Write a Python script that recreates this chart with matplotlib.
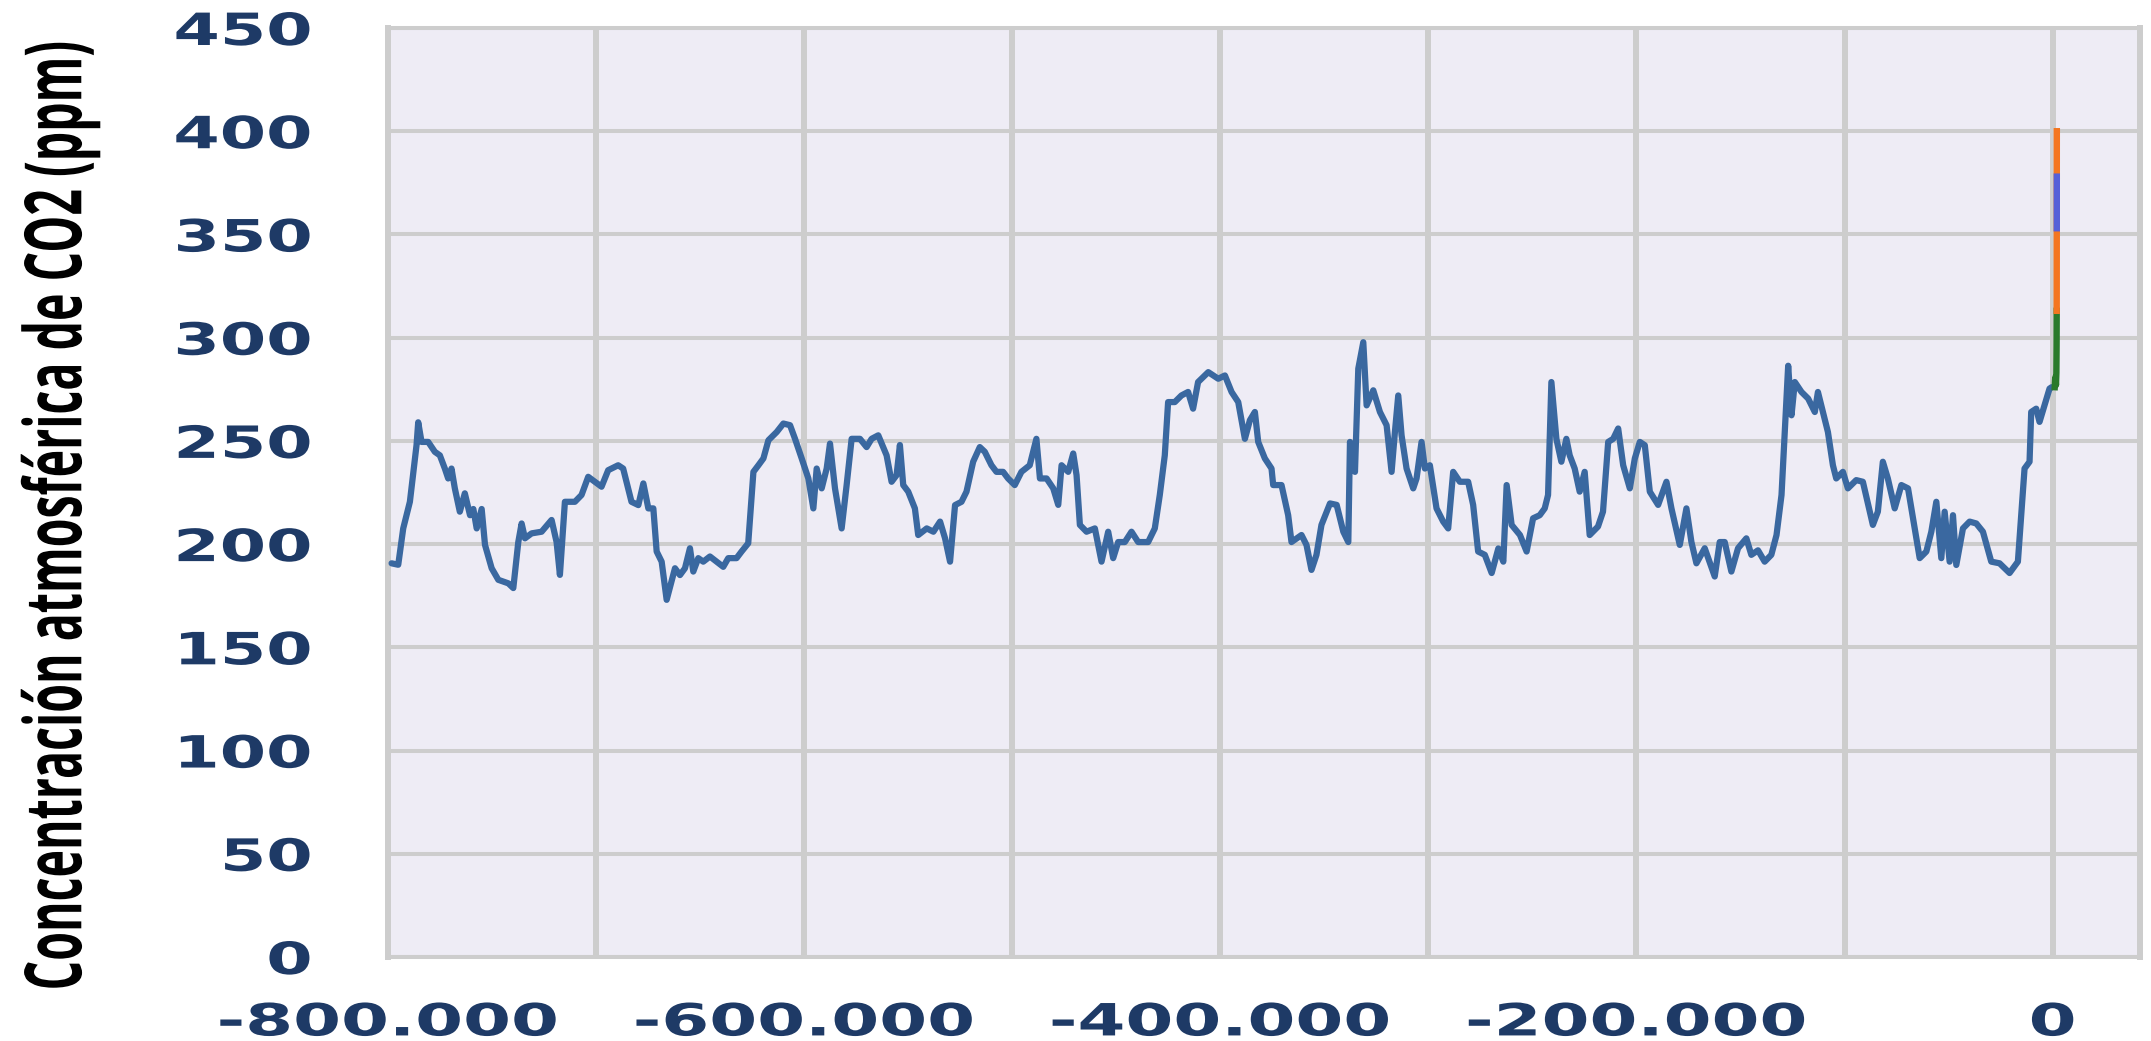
import matplotlib
matplotlib.use("Agg")
import matplotlib.pyplot as plt
from matplotlib.patheffects import AbstractPathEffect
from matplotlib.transforms import Affine2D
import numpy as np

# Ice-core CO2 record, years before present (thousands) and ppm
ice_kyr = [
    -798.3, -795.1, -792.7, -789.5, -786.3, -785.5, -783.9, -780.7, -777.5, -775.1,
    -772.7, -771.1, -769.5, -767.9, -765.5, -763.1, -760.6, -759.0, -757.4, -755.0,
    -753.4, -750.2, -747.0, -742.2, -739.8, -737.4, -735.8, -734.2, -731.0, -726.2,
    -721.4, -719.0, -717.4, -715.0, -710.2, -707.0, -703.8, -700.6, -697.4, -694.2,
    -689.4, -687.0, -683.0, -679.7, -677.3, -674.9, -672.5, -670.9, -668.5, -666.1,
    -662.1, -659.7, -657.3, -654.9, -653.3, -650.9, -648.5, -645.3, -642.1, -638.9,
    -636.5, -632.5, -630.1, -626.9, -624.4, -622.0, -619.6, -617.2, -613.2, -610.0,
    -606.8, -604.4, -601.2, -598.0, -595.6, -594.0, -591.6, -589.2, -587.6, -585.2,
    -582.0, -579.6, -577.2, -573.2, -570.0, -567.6, -564.4, -560.4, -558.0, -555.6,
    -554.0, -552.4, -550.0, -546.8, -545.2, -541.1, -537.9, -534.7, -532.3, -529.9,
    -527.5, -524.4, -522.0, -518.8, -515.6, -513.2, -510.0, -507.6, -504.4, -502.0,
    -498.8, -495.6, -491.6, -488.4, -486.7, -483.5, -480.3, -477.9, -476.3, -473.1,
    -470.7, -469.1, -467.5, -464.3, -460.3, -457.1, -453.9, -451.5, -449.1, -445.9,
    -442.7, -439.5, -434.7, -431.5, -429.1, -426.7, -425.1, -421.9, -418.7, -415.5,
    -413.1, -410.7, -405.8, -401.0, -397.8, -394.6, -391.4, -388.2, -385.8, -383.4,
    -381.8, -378.6, -375.4, -374.6, -370.6, -367.4, -365.8, -361.0, -358.6, -356.2,
    -353.8, -351.4, -347.3, -344.1, -340.9, -338.5, -337.7, -335.3, -333.7, -331.3,
    -329.7, -326.5, -323.3, -320.1, -317.7, -316.1, -314.5, -312.9, -310.5, -307.3,
    -305.7, -303.3, -301.7, -299.3, -296.1, -292.9, -290.5, -288.1, -284.9, -280.9,
    -278.5, -276.1, -272.9, -269.6, -266.4, -264.0, -262.4, -260.0, -256.0, -252.8,
    -249.7, -246.5, -244.1, -242.5, -240.9, -238.5, -236.1, -233.7, -232.1, -229.7,
    -227.3, -224.9, -222.5, -218.5, -216.1, -213.6, -211.2, -208.8, -206.4, -203.2,
    -200.8, -198.4, -196.0, -193.6, -189.6, -185.6, -183.2, -179.2, -176.0, -173.6,
    -171.2, -167.2, -162.4, -160.0, -157.6, -154.4, -151.2, -147.2, -144.8, -141.6,
    -138.4, -135.2, -132.7, -130.3, -127.1, -125.5, -123.9, -120.7, -117.5, -114.3,
    -112.8, -110.4, -108.0, -105.6, -104.0, -100.8, -98.4, -94.4, -91.2, -86.4,
    -84.0, -81.6, -79.2, -75.9, -72.7, -69.5, -66.3, -63.9, -60.7, -58.3,
    -55.9, -53.5, -51.9, -49.5, -47.9, -46.3, -43.1, -39.9, -36.7, -33.5,
    -29.5, -25.5, -20.7, -16.7, -15.1, -13.5, -11.1, -10.3, -7.9, -6.3,
    -3.9, -1.5, -0.5,
]
ice_ppm = [
    190.7, 190.0, 207.6, 220.5, 248.0, 259.0, 249.5, 249.5, 244.7, 243.0,
    236.6, 231.8, 236.6, 227.0, 215.7, 224.6, 214.0, 217.0, 207.6, 217.0,
    199.6, 188.3, 182.7, 181.0, 178.7, 201.0, 210.0, 202.8, 205.2, 206.0,
    211.7, 201.0, 185.1, 220.5, 220.5, 223.8, 232.6, 230.2, 227.8, 235.8,
    238.2, 236.6, 220.5, 218.9, 229.4, 217.3, 217.3, 196.4, 191.5, 173.0,
    188.3, 185.0, 188.3, 198.0, 186.7, 193.2, 191.5, 194.0, 191.5, 189.0,
    193.2, 193.2, 196.4, 200.4, 235.0, 238.2, 241.5, 250.3, 254.3, 258.4,
    257.6, 251.0, 241.5, 231.8, 217.3, 236.6, 227.0, 236.6, 248.7, 227.0,
    207.6, 228.6, 251.0, 251.0, 247.0, 251.0, 252.7, 243.0, 230.2, 233.4,
    248.0, 228.6, 225.4, 217.3, 204.4, 207.6, 206.0, 210.9, 202.8, 191.5,
    218.9, 220.5, 225.4, 239.9, 247.0, 244.7, 238.2, 235.0, 235.0, 231.8,
    228.6, 235.0, 238.2, 251.0, 231.8, 231.8, 227.0, 219.0, 238.2, 235.0,
    243.9, 233.4, 209.3, 206.0, 207.6, 191.5, 206.0, 193.2, 201.0, 201.0,
    206.0, 201.0, 201.0, 207.6, 223.8, 243.0, 268.8, 268.8, 272.0, 273.7,
    265.6, 278.5, 283.3, 280.1, 281.7, 273.7, 268.8, 251.0, 260.0, 264.0,
    249.5, 241.5, 236.6, 228.6, 228.6, 214.0, 201.0, 204.4, 199.6, 187.5,
    194.8, 209.3, 219.7, 219.0, 206.0, 201.0, 249.5, 235.0, 285.0, 297.8,
    267.2, 274.5, 264.0, 257.6, 235.0, 254.3, 272.0, 252.7, 236.6, 227.0,
    231.8, 249.5, 236.6, 238.2, 217.3, 210.9, 207.6, 235.0, 230.2, 230.2,
    219.0, 196.4, 194.8, 186.0, 197.9, 191.5, 228.6, 209.3, 204.4, 196.4,
    212.5, 214.0, 217.3, 223.8, 278.5, 251.0, 239.9, 251.0, 243.0, 236.6,
    225.4, 235.0, 204.4, 208.5, 215.7, 249.5, 251.0, 256.0, 238.2, 227.0,
    241.5, 249.5, 247.9, 225.4, 219.0, 230.2, 217.3, 199.6, 217.3, 201.0,
    190.7, 198.0, 184.3, 201.0, 201.0, 186.7, 198.0, 202.8, 194.8, 197.0,
    191.5, 194.8, 204.4, 223.8, 286.4, 262.4, 278.5, 273.7, 270.5, 264.0,
    273.7, 264.0, 254.3, 238.2, 231.8, 235.0, 227.0, 231.0, 230.2, 209.3,
    215.7, 239.9, 231.8, 217.3, 228.6, 227.0, 207.6, 193.2, 196.4, 206.0,
    220.5, 193.2, 215.7, 191.5, 214.0, 189.9, 207.6, 210.9, 210.0, 206.0,
    191.5, 190.7, 186.0, 191.5, 214.0, 236.6, 239.9, 264.0, 265.6, 259.2,
    267.2, 275.3, 276.0,
]

# Recent records (calendar years, sit right at the 0 mark)
lawdome_year = [1000, 1200, 1400, 1600, 1800, 1900, 1958]
lawdome_ppm = [276, 280, 281, 277, 283, 296, 313]
maunaloa_year = [1958, 1970, 1980, 1990, 2000, 2010, 2015]
maunaloa_ppm = [313, 325, 339, 354, 369, 389, 400]
station_year = [1990, 2005]
station_ppm = [353, 378]

x_ticks = [-800000, -600000, -400000, -200000, 0]
x_ticklabels = ["-800.000", "-600.000", "-400.000", "-200.000", "0"]
y_ticks = list(range(0, 451, 50))

TICK_COLOR = "#1E3A66"
GRID_COLOR = "#CDCDCD"


class Widen(AbstractPathEffect):
    """Stretch drawn text horizontally around its right edge or centre."""

    def __init__(self, sx, anchor="center"):
        super().__init__()
        self.sx = sx
        self.anchor = anchor

    def draw_path(self, renderer, gc, tpath, affine, rgbFace=None):
        ext = tpath.get_extents(affine)
        x0 = ext.x1 if self.anchor == "right" else 0.5 * (ext.x0 + ext.x1)
        stretch = Affine2D().translate(-x0, 0).scale(self.sx, 1).translate(x0, 0)
        renderer.draw_path(gc, tpath, affine + stretch, rgbFace)


fig = plt.figure(figsize=(21.51, 10.41), dpi=100)
ax = fig.add_axes([0.1804, 0.0807, 0.8145, 0.8924])
ax.set_facecolor("#EEECF5")
ax.set_axisbelow(True)

ax.plot(np.array(ice_kyr) * 1000, ice_ppm, color="#3A68A0", lw=4.5,
        solid_joinstyle="round", solid_capstyle="round", zorder=3)
ax.plot(lawdome_year, lawdome_ppm, color="#2A7A2A", lw=4.6, zorder=4)
ax.plot(maunaloa_year, maunaloa_ppm, color="#F4761F", lw=4.6, zorder=4)
ax.plot(station_year, station_ppm, color="#5560D8", lw=4.6, zorder=5)

ax.set_xlim(-800000, 42000)
ax.set_ylim(0, 450)

ax.set_xticks(x_ticks)
ax.set_xticklabels(x_ticklabels)
ax.set_xticks(np.arange(-700000, 0, 200000), minor=True)
ax.set_yticks(y_ticks)
ax.set_yticklabels([str(v) for v in y_ticks])

ax.grid(axis="x", which="both", color=GRID_COLOR, lw=4.3)
ax.grid(axis="y", which="major", color=GRID_COLOR, lw=2.9)
ax.tick_params(which="both", length=0)
ax.tick_params(axis="x", pad=32)
ax.tick_params(axis="y", pad=55)

for side, lw in (("left", 4.3), ("right", 4.3), ("top", 2.9), ("bottom", 2.9)):
    ax.spines[side].set_color(GRID_COLOR)
    ax.spines[side].set_linewidth(lw)

for lab in ax.get_xticklabels():
    lab.set_fontsize(32)
    lab.set_fontweight("bold")
    lab.set_color(TICK_COLOR)
    lab.set_path_effects([Widen(1.55)])
for lab in ax.get_yticklabels():
    lab.set_fontsize(32)
    lab.set_fontweight("bold")
    lab.set_color(TICK_COLOR)
    lab.set_path_effects([Widen(1.5, anchor="right")])

fig.text(0.028, 0.505, "Concentración atmosférica de CO2 (ppm)",
         rotation=90, ha="center", va="center", fontsize=33.5,
         family="Open Sans", weight="bold", color="black",
         path_effects=[Widen(1.7)])

fig.savefig("out.png", dpi=100)
